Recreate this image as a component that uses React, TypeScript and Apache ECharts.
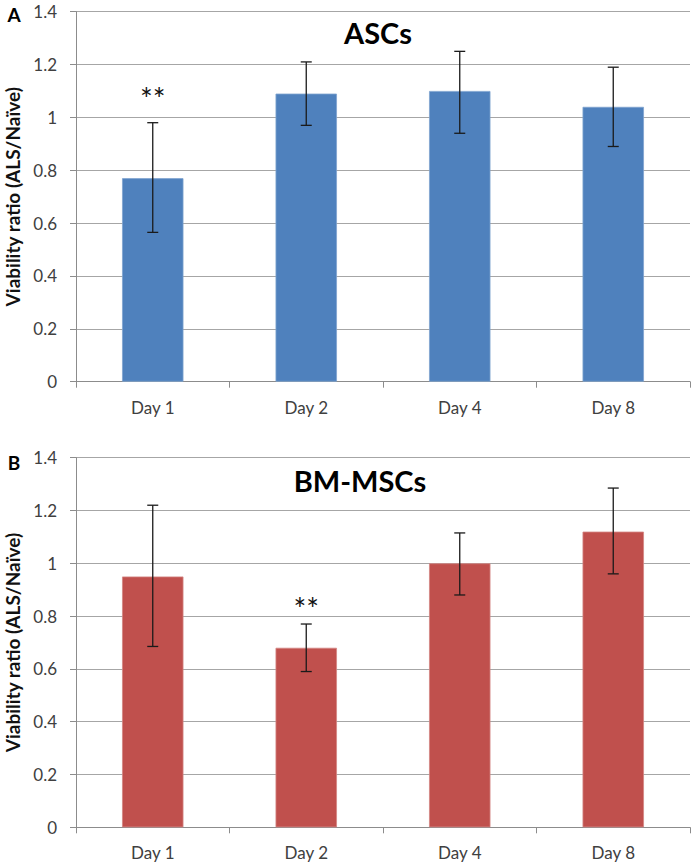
import React, { useEffect, useRef } from "react";
import * as echarts from "echarts";

const categories = ["Day 1", "Day 2", "Day 4", "Day 8"];
const yTicks = [0, 0.2, 0.4, 0.6, 0.8, 1, 1.2, 1.4];

const ascMeans = [0.77, 1.09, 1.1, 1.04];
const ascErrLow = [0.565, 0.97, 0.94, 0.89];
const ascErrHigh = [0.98, 1.21, 1.25, 1.19];
const ascSig = ["**", "", "", ""];
const ascSigY = [1.093, 0, 0, 0];

const bmMeans = [0.95, 0.68, 1.0, 1.12];
const bmErrLow = [0.685, 0.59, 0.88, 0.96];
const bmErrHigh = [1.22, 0.77, 1.115, 1.285];
const bmSig = ["", "**", "", ""];
const bmSigY = [0, 0.851, 0, 0];

const FONT = "Lato, 'Open Sans', sans-serif";

function errorSeries(idx: number, low: number[], high: number[]) {
  return {
    type: "custom",
    xAxisIndex: idx,
    yAxisIndex: idx,
    z: 10,
    data: categories.map((_, i) => [i, low[i], high[i]]),
    encode: { x: 0, y: [1, 2] },
    renderItem: (params: any, api: any) => {
      const x = api.value(0);
      const lo = api.coord([x, api.value(1)]);
      const hi = api.coord([x, api.value(2)]);
      const hw = 5.5;
      const st = { stroke: "#1a1a1a", lineWidth: 1.3 };
      return {
        type: "group",
        children: [
          { type: "line", shape: { x1: lo[0], y1: lo[1], x2: hi[0], y2: hi[1] }, style: st },
          { type: "line", shape: { x1: lo[0] - hw, y1: lo[1], x2: lo[0] + hw, y2: lo[1] }, style: st },
          { type: "line", shape: { x1: hi[0] - hw, y1: hi[1], x2: hi[0] + hw, y2: hi[1] }, style: st },
        ],
      };
    },
  };
}

function sigSeries(idx: number, ys: number[], marks: string[]) {
  return {
    type: "custom",
    xAxisIndex: idx,
    yAxisIndex: idx,
    z: 11,
    data: categories.map((_, i) => [i, ys[i]]),
    encode: { x: 0, y: 1 },
    renderItem: (params: any, api: any) => {
      const t = marks[params.dataIndex];
      if (!t) return null;
      const p = api.coord([api.value(0), api.value(1)]);
      return {
        type: "text",
        x: p[0],
        y: p[1] + 5,
        style: {
          text: t,
          fontSize: 30,
          fontFamily: FONT,
          fill: "#111",
          align: "center",
          verticalAlign: "middle",
        },
      };
    },
  };
}

function xAxis(idx: number) {
  return {
    type: "category",
    gridIndex: idx,
    data: categories,
    axisLine: { lineStyle: { color: "#8c8c8c", width: 1 } },
    axisTick: { show: true, length: 6, lineStyle: { color: "#8c8c8c" } },
    axisLabel: { color: "#404040", fontSize: 17, fontFamily: FONT, margin: 17 },
  };
}

function yAxis(idx: number) {
  return {
    type: "value",
    gridIndex: idx,
    min: 0,
    max: 1.4,
    interval: 0.2,
    name: "Viability ratio (ALS/Naïve)",
    nameLocation: "middle",
    nameGap: 52,
    nameTextStyle: { fontSize: 19, fontWeight: "bold", color: "#111", fontFamily: FONT },
    axisLine: { show: true, lineStyle: { color: "#8c8c8c", width: 1 } },
    axisTick: { show: true, length: 6, lineStyle: { color: "#8c8c8c" } },
    splitLine: { show: true, lineStyle: { color: "#a6a6a6", width: 1 } },
    axisLabel: {
      color: "#404040",
      fontSize: 17,
      fontFamily: FONT,
      margin: 19,
      formatter: (v: number) => {
        const t = yTicks.find((k) => Math.abs(k - v) < 1e-6);
        return String(Math.round((t ?? v) * 10) / 10);
      },
    },
  };
}

export default function App() {
  const ref = useRef<HTMLDivElement>(null);
  useEffect(() => {
    document.body.style.margin = "0";
    const chart = echarts.init(ref.current!, null, { renderer: "svg" });
    chart.setOption({
      animation: false,
      backgroundColor: "#ffffff",
      grid: [
        { left: 76, right: 5, top: 11.7, height: 370, outerBoundsMode: "none", containLabel: false },
        { left: 76, right: 5, top: 457.7, height: 369.6, outerBoundsMode: "none", containLabel: false },
      ],
      xAxis: [xAxis(0), xAxis(1)],
      yAxis: [yAxis(0), yAxis(1)],
      graphic: [
        { type: "text", x: 378, y: 32, style: { text: "ASCs", fontSize: 29, fontWeight: "bold", fontFamily: FONT, fill: "#000", align: "center", verticalAlign: "middle" } },
        { type: "text", x: 360, y: 480, style: { text: "BM-MSCs", fontSize: 29, fontWeight: "bold", fontFamily: FONT, fill: "#000", align: "center", verticalAlign: "middle" } },
        { type: "text", x: 14, y: 14, style: { text: "A", fontSize: 19, fontWeight: "bold", fontFamily: FONT, fill: "#000", align: "center", verticalAlign: "middle" } },
        { type: "text", x: 14, y: 462, style: { text: "B", fontSize: 19, fontWeight: "bold", fontFamily: FONT, fill: "#000", align: "center", verticalAlign: "middle" } },
      ],
      series: [
        {
          type: "bar",
          xAxisIndex: 0,
          yAxisIndex: 0,
          data: ascMeans,
          barWidth: "40%",
          itemStyle: { color: "#4F81BD", borderColor: "#7FA3CF", borderWidth: 0.8 },
        },
        errorSeries(0, ascErrLow, ascErrHigh),
        sigSeries(0, ascSigY, ascSig),
        {
          type: "bar",
          xAxisIndex: 1,
          yAxisIndex: 1,
          data: bmMeans,
          barWidth: "40%",
          itemStyle: { color: "#C0504D", borderColor: "#D38583", borderWidth: 0.8 },
        },
        errorSeries(1, bmErrLow, bmErrHigh),
        sigSeries(1, bmSigY, bmSig),
      ],
    });
    return () => chart.dispose();
  }, []);
  return <div ref={ref} style={{ width: 695, height: 868 }} />;
}
